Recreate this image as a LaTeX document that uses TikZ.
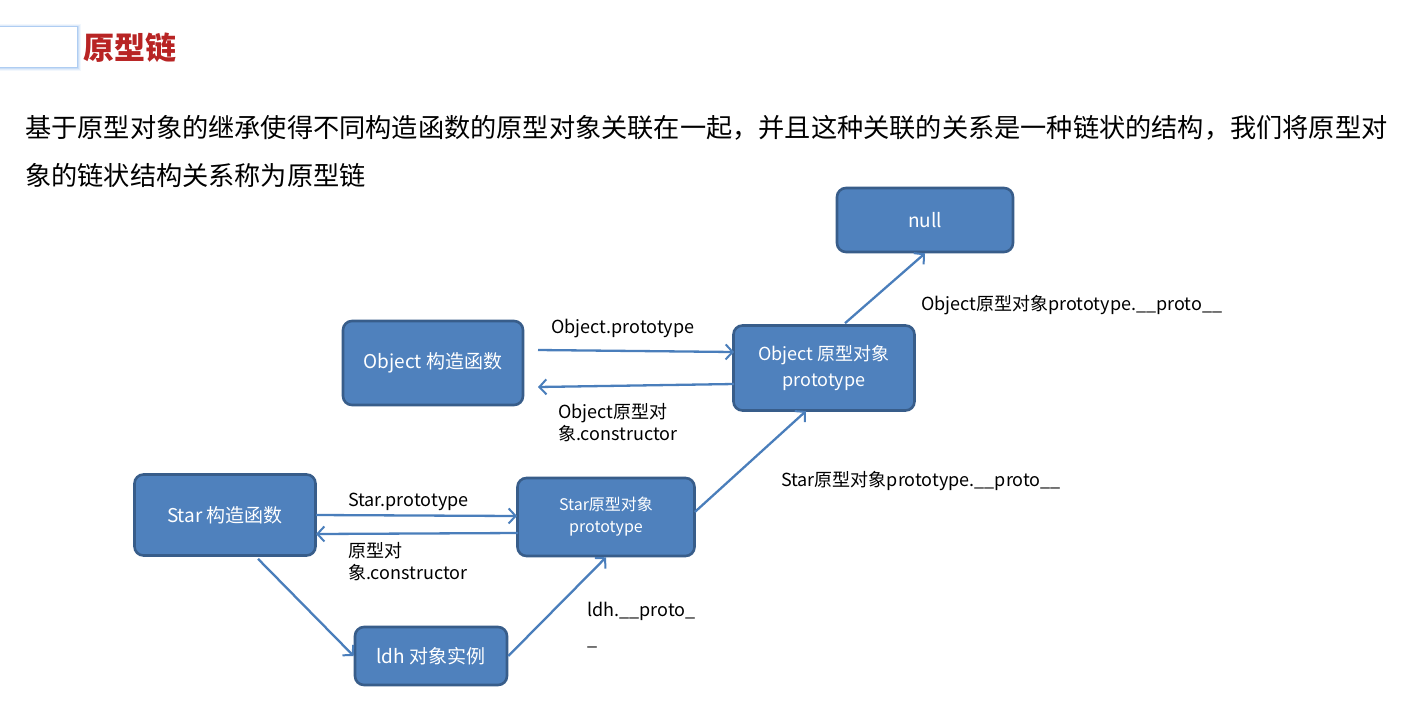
\documentclass[tikz,border=0pt]{standalone}
\usepackage{fontspec}
\usetikzlibrary{arrows.meta}
\newfontfamily\cjk{Noto Sans CJK SC}
\definecolor{boxfill}{RGB}{79,129,189}
\definecolor{boxline}{RGB}{56,93,138}
\definecolor{arrowblue}{RGB}{74,126,187}
\definecolor{titlered}{RGB}{184,36,36}
\definecolor{glowblue}{RGB}{150,190,240}
\tikzset{
  objbox/.style={draw=boxline, line width=2.6pt, fill=boxfill, rounded corners=9pt,
    text=white, align=center, font=\cjk\fontsize{19}{24}\selectfont, inner sep=0pt},
  link/.style={draw=arrowblue, line width=2.3pt, -{Straight Barb[length=7pt,width=15pt,line width=2pt]}},
  lbl/.style={font=\cjk\fontsize{18}{22}\selectfont, align=left, inner sep=0pt, text=black},
}
\begin{document}
\begin{tikzpicture}[x=1pt,y=-1pt]
\useasboundingbox (0,0) rectangle (1424,716);
\fill[white] (0,0) rectangle (1424,716);

% heading tab with soft glow
\foreach \w/\o in {7/0.12,5/0.18,3/0.3,1.5/0.5}
  \draw[glowblue, line width=\w pt, opacity=\o] (-5,27) rectangle (77,67);
\fill[white] (-5,27) rectangle (77,67);
\node[anchor=west, inner sep=0pt, text=titlered, font=\cjk\bfseries\fontsize{31}{36}\selectfont] (title) at (83,48) {原型链};

% paragraph
\node[anchor=west, inner sep=0pt, font=\cjk\fontsize{26.2}{30}\selectfont] (para1) at (25,128)
  {基于原型对象的继承使得不同构造函数的原型对象关联在一起，并且这种关联的关系是一种链状的结构，我们将原型对};
\node[anchor=west, inner sep=0pt, font=\cjk\fontsize{26.2}{30}\selectfont] (para2) at (25,175)
  {象的链状结构关系称为原型链};

% boxes
\node[objbox, minimum width=176pt, minimum height=64pt] (null) at (925,220) {null};
\node[objbox, minimum width=180pt, minimum height=84pt] (objctor) at (433,363) {Object 构造函数};
\node[objbox, minimum width=181pt, minimum height=85pt, font=\cjk\fontsize{18}{25}\selectfont] (objproto) at (824,368) {Object 原型对象\\prototype};
\node[objbox, minimum width=181pt, minimum height=81pt] (starctor) at (225,515) {Star 构造函数};
\node[objbox, minimum width=177pt, minimum height=78pt, font=\cjk\fontsize{16}{22}\selectfont] (starproto) at (606,517) {Star原型对象\\prototype};
\node[objbox, minimum width=152pt, minimum height=58pt] (ldh) at (431,656) {ldh 对象实例};

% anchor points for the connectors
\coordinate (a1s) at (538,350); \coordinate (a1e) at (734,352);
\coordinate (a2s) at (734,384); \coordinate (a2e) at (538,387);
\coordinate (b1s) at (316,515); \coordinate (b1e) at (517,516);
\coordinate (b2s) at (518,533); \coordinate (b2e) at (316,534);

\draw[link] (a1s) -- (a1e);
\draw[link] (a2s) -- (a2e);
\draw[link] (b1s) -- (b1e);
\draw[link] (b2s) -- (b2e);
\draw[link] (objproto.north) ++(21,-1) -- (null.south);
\draw[link] (starproto.east) ++(-1,-5) -- (806,411);
\draw[link] (starctor.south) ++(33,2) -- (ldh.west);
\draw[link] (ldh.east) -- (starproto.south);

% labels
\node[lbl, anchor=west] (l1) at (551,329) {Object.prototype};
\node[lbl, anchor=north west] (l2) at (558,403) {Object原型对\\象.constructor};
\node[lbl, anchor=west] (l3) at (921,305) {Object原型对象prototype.\_\_proto\_\_};
\node[lbl, anchor=west] (l4) at (781,481) {Star原型对象prototype.\_\_proto\_\_};
\node[lbl, anchor=west] (l5) at (348,502) {Star.prototype};
\node[lbl, anchor=north west] (l6) at (348,542) {原型对\\象.constructor};
\node[lbl, anchor=north west, font=\cjk\fontsize{18}{29}\selectfont] (l7) at (587,602) {ldh.\_\_proto\_\\\_};
\end{tikzpicture}
\end{document}
